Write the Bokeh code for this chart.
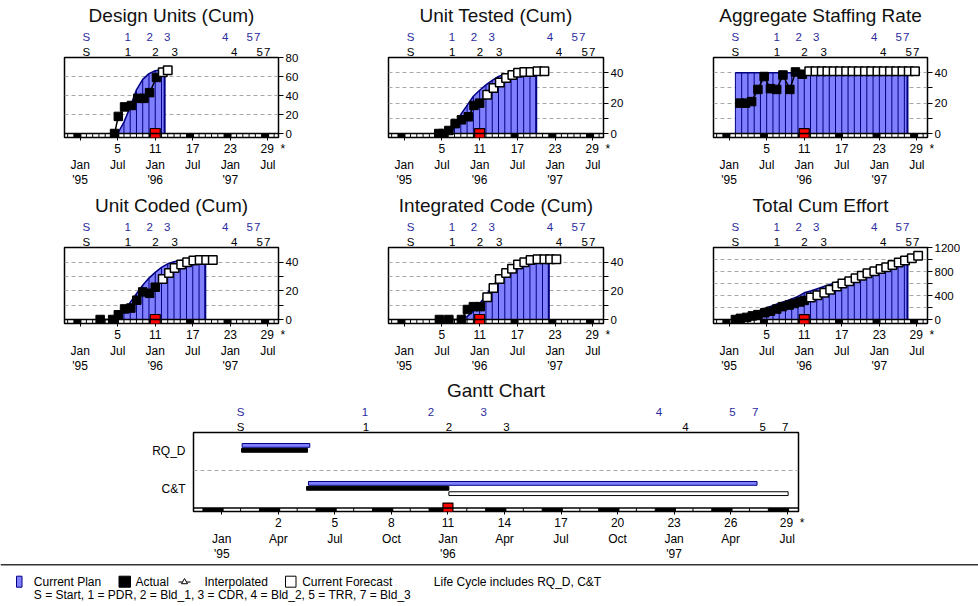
from bokeh.plotting import figure
from bokeh.models import Range1d, LinearAxis, FixedTicker, Span
from bokeh.layouts import column, row
from bokeh.embed import file_html
from bokeh.resources import INLINE
from bokeh.core.properties import value

FONT = "Liberation Sans"
PLAN_FILL = "#8080ff"
PLAN_LINE = "#000080"
MS_BLUE = "#2b2b9e"
NB = "\u00a0"

# ---------------- data ----------------
ms_labels = ["S", "1", "2", "3", "4", "5", "7"]
plan_ms = [0.0, 6.6, 10.1, 12.9, 22.2, 26.1, 27.3]
fcst_ms = [0.0, 6.65, 11.05, 14.1, 23.6, 27.7, 28.9]
current_month = 11

small_num_ticks = [-1, 5, 11, 17, 23, 29]
small_num_labels = ["", "5", "11", "17", "23", "29"]
small_month_ticks = [-1, 5, 11, 17, 23, 29]
small_month_labels = ["Jan", "Jul", "Jan", "Jul", "Jan", "Jul"]
small_marks = [-1, 5, 11, 17, 23, 29]

gantt_num_ticks = [-1, 2, 5, 8, 11, 14, 17, 20, 23, 26, 29]
gantt_num_labels = ["", "2", "5", "8", "11", "14", "17", "20", "23", "26", "29"]
gantt_month_ticks = [-1, 2, 5, 8, 11, 14, 17, 20, 23, 26, 29]
gantt_month_labels = ["Jan", "Apr", "Jul", "Oct", "Jan", "Apr", "Jul", "Oct", "Jan", "Apr", "Jul"]
gantt_marks = [-1, 2, 5, 8, 11, 14, 17, 20, 23, 26, 29]

year_ticks = [-1, 11, 23]
year_labels = ["'95", "'96", "'97"]
end_note = "*"

# Design Units (Cum)
du_plan_m = [5, 6, 7, 8, 9, 10, 11, 12, 12.5]
du_plan_v = [0, 12, 28, 46, 57, 63, 66, 67, 67]
du_act_m = [4.5, 5.1, 6.1, 7.2, 8.2, 9.2, 10.1, 11.2]
du_act_v = [0, 18, 28, 29.5, 37, 37, 43, 59]
du_fc_m = [12.2, 13.0]
du_fc_v = [64.5, 66.5]

# Unit Tested (Cum)
ut_plan_m = [6.5, 7, 8, 9, 10, 11, 12, 13, 14, 15, 16, 17, 18, 19, 20]
ut_plan_v = [0, 5, 12.5, 18.5, 24.5, 28.5, 32, 35, 37.5, 39, 40, 40.3, 40.5, 40.5, 40.5]
ut_act_m = [4.5, 5.2, 6.1, 7.1, 8.1, 9.2, 10.1, 11.0]
ut_act_v = [0, 0, 2, 6.5, 9, 11, 18.5, 20]
ut_fc_m = [12.2, 13.2, 14.2, 15.2, 16.2, 17.1, 18.1, 19.1, 20.2, 21.3]
ut_fc_v = [25.5, 30, 33.5, 36.5, 38.5, 40, 40.5, 40.5, 41, 41]

# Aggregate Staffing Rate
sr_plan_m = [0, 1, 2, 3, 4, 5, 6, 7, 8, 9, 10, 11, 12, 13, 14, 15, 16, 17, 18, 19, 20,
             21, 22, 23, 24, 25, 26, 27, 27.5]
sr_plan_v = [40, 40, 40, 40, 40, 40, 40, 40, 40, 40, 40, 40, 40, 40, 40, 40, 40, 40, 40, 40,
             40, 40, 40, 40, 40, 40, 40, 40, 40]
sr_act_m = [0.7, 1.6, 2.6, 3.6, 4.6, 5.6, 6.6, 7.6, 8.7, 9.6, 10.7]
sr_act_v = [20, 20, 21, 29, 37.5, 29.5, 29, 38.5, 29, 40.5, 39]
sr_fc_m = [11.8, 12.8, 13.8, 14.7, 15.7, 16.7, 17.7, 18.7, 19.7, 20.7, 21.7, 22.7, 23.7,
           24.7, 25.7, 26.7, 27.7, 28.7]
sr_fc_v = [41, 41, 41, 41, 41, 41, 41, 41, 41, 41, 41, 41, 41, 41, 41, 41, 41, 41]

# Unit Coded (Cum)
uc_plan_m = [4.8, 5, 6, 7, 8, 9, 10, 11, 12, 13, 14, 15, 16, 17, 18, 19]
uc_plan_v = [0, 1, 6, 12, 18, 24, 29, 33, 36.5, 39, 40.5, 41.3, 41.7, 42, 42, 42]
uc_act_m = [2.2, 4.2, 5.1, 6.1, 7.1, 8.05, 9.0, 10.1, 11.0]
uc_act_v = [0, 0, 3.3, 7.4, 8, 13.5, 19.3, 18.3, 22.6]
uc_fc_m = [12.2, 13.2, 14.1, 15.15, 16.1, 17.1, 18.1, 19.15, 20.2]
uc_fc_v = [28.3, 32.6, 36, 38.5, 40, 41.3, 41.7, 41.7, 41.7]

# Integrated Code (Cum)
ic_plan_m = [8, 9, 10, 11, 12, 13, 14, 15, 16, 17, 18, 19, 20, 21, 22]
ic_plan_v = [0, 2, 6, 11, 17, 23, 28.5, 33, 36.5, 39, 40.5, 41.3, 41.7, 42, 42]
ic_act_m = [4.6, 6.1, 8.1, 9.05, 10.0, 11.1]
ic_act_v = [0, 0, 0, 7, 9, 9]
ic_fc_m = [12.2, 13.2, 14.2, 15.2, 16.15, 17.1, 18.1, 19.1, 20.2, 21.3, 22.2, 23.2]
ic_fc_v = [15.6, 22, 28.3, 32.6, 35.6, 38.5, 40, 41.7, 42.2, 42.2, 42.2, 42.2]

# Total Cum Effort
te_plan_m = [0, 1, 2, 3, 4, 5, 6, 7, 8, 9, 10, 11, 12, 13, 14, 15, 16, 17, 18, 19, 20,
             21, 22, 23, 24, 25, 26, 27, 27.5]
te_plan_v = [0, 30, 70, 115, 155, 195, 235, 270, 305, 345, 385, 445, 475, 510, 545, 580,
             615, 655, 690, 730, 770, 810, 850, 890, 925, 960, 1000, 1040, 1060]
te_act_m = [0.0, 0.8, 1.8, 2.7, 3.6, 4.7, 5.6, 6.6, 7.5, 8.6, 9.4, 10.3, 11.0]
te_act_v = [0, 20, 36, 61, 82, 113, 138, 174, 215, 241, 267, 292, 318]
te_fc_m = [12.05, 13.1, 14.2, 15.15, 16.2, 17.1, 18.2, 19.2, 20.2, 21.1, 22.2, 23.2, 24.1,
           25.1, 26.1, 27.1, 28.2, 29.2]
te_fc_v = [369, 405, 446, 497, 549, 600, 636, 687, 728, 769, 805, 841, 872, 908, 949, 985,
           1020, 1062]

# Gantt
gantt_rows = ["RQ_D", "C&T"]
gantt_row_pos = [1.5, 0.5]
g_plan_start = [0.08, 3.6]
g_plan_end = [3.67, 27.4]
g_act_start = [0.05, 3.5]
g_act_end = [3.55, 11.05]
g_fc_rows = ["C&T"]
g_fc_start = [11.05]
g_fc_end = [29.05]

# Legend texts
legend_row1 = ["Current Plan", "Actual", "Interpolated", "Current Forecast",
               "Life Cycle includes RQ_D, C&T"]
legend_row2 = "S = Start,  1 = PDR,  2 = Bld_1,  3 = CDR,  4 = Bld_2,  5 = TRR,  7 = Bld_3"


def with_note(labels):
    """Append the end-of-axis note to the last tick label, balanced so it stays centred."""
    out = list(labels)
    out[-1] = NB * 3 + out[-1] + NB * 2 + end_note
    return out


def style_title(p):
    p.title.text_font = FONT
    p.title.text_font_size = "19px"
    p.title.text_font_style = "normal"
    p.title.text_color = "#111111"
    p.title.align = "center"
    p.title.standoff = 4


def plain_axis(ax, size, color="black", standoff=0, tick_out=0):
    ax.axis_line_color = None
    ax.minor_tick_line_color = None
    ax.major_tick_out = tick_out
    ax.major_tick_in = 0
    if tick_out == 0:
        ax.major_tick_line_color = None
    ax.major_label_standoff = standoff
    ax.major_label_text_font = FONT
    ax.major_label_text_font_size = size
    ax.major_label_text_color = color


def milestone_axes(p):
    ax_f = LinearAxis(ticker=FixedTicker(ticks=fcst_ms),
                      major_label_overrides=dict(zip(fcst_ms, ms_labels)))
    ax_p = LinearAxis(ticker=FixedTicker(ticks=plan_ms),
                      major_label_overrides=dict(zip(plan_ms, ms_labels)))
    plain_axis(ax_f, "11.5px", "black")
    plain_axis(ax_p, "11.5px", MS_BLUE)
    p.add_layout(ax_f, "above")
    p.add_layout(ax_p, "above")


def date_axes(p, nt, nl, mt, ml):
    xa = p.xaxis[0]
    xa.ticker = FixedTicker(ticks=nt)
    xa.major_label_overrides = dict(zip(nt, with_note(nl)))
    plain_axis(xa, "12px", standoff=1, tick_out=3)
    ax_m = LinearAxis(ticker=FixedTicker(ticks=mt), major_label_overrides=dict(zip(mt, ml)))
    ax_y = LinearAxis(ticker=FixedTicker(ticks=year_ticks),
                      major_label_overrides=dict(zip(year_ticks, year_labels)))
    plain_axis(ax_m, "12px", standoff=-1)
    plain_axis(ax_y, "12px", standoff=-2)
    p.add_layout(ax_m, "below")
    p.add_layout(ax_y, "below")


def strip(p, x0, x1, ybot, marks, ext):
    p.quad(left=[m - 1 for m in marks], right=[m + ext for m in marks],
           top=0, bottom=ybot, fill_color="black", line_color=None)
    months = list(range(int(x0), int(x1) + 1))
    p.segment(x0=months, y0=ybot, x1=months, y1=0, line_color="black", line_width=1)
    p.add_layout(Span(location=0, dimension="width", line_color="black", line_width=1.5))


def small_chart(title, w, l, r, t, b, h, yr, yticks, ylabels, gticks,
                plan_m, plan_v, act_m, act_v, fc_m, fc_v):
    p = figure(width=w, height=h, x_range=Range1d(-3.5, 30.7), y_range=Range1d(*yr),
               toolbar_location=None, output_backend="svg", y_axis_location="right",
               min_border_left=l, min_border_right=r, min_border_top=t,
               min_border_bottom=b, title=title)
    style_title(p)
    p.outline_line_color = "black"
    p.outline_line_width = 1.5
    p.xgrid.visible = False
    p.ygrid.ticker = FixedTicker(ticks=gticks)
    p.ygrid.grid_line_dash = "4 3"
    p.ygrid.grid_line_color = "#a8a8a8"

    date_axes(p, small_num_ticks, small_num_labels, small_month_ticks, small_month_labels)

    ya = p.yaxis[0]
    ya.ticker = FixedTicker(ticks=yticks)
    ya.major_label_overrides = dict(zip(yticks, ylabels))
    plain_axis(ya, "11.5px", standoff=2, tick_out=5)

    milestone_axes(p)

    # plan
    p.varea(x=plan_m, y1=0, y2=plan_v, fill_color=PLAN_FILL)
    p.segment(x0=plan_m, y0=0, x1=plan_m, y1=plan_v, line_color=PLAN_LINE, line_width=1)
    p.line(plan_m, plan_v, line_color=PLAN_LINE, line_width=1.5)
    p.segment(x0=[plan_m[-1]], y0=[0], x1=[plan_m[-1]], y1=[plan_v[-1]],
              line_color=PLAN_LINE, line_width=2)

    strip(p, -3, 30, yr[0], small_marks, 0.2)

    p.line(act_m + fc_m, act_v + fc_v, line_color="black", line_width=1.5)
    p.scatter(act_m, act_v, marker="square", size=8.5, fill_color="black", line_color="black")
    p.scatter(fc_m, fc_v, marker="square", size=8.5, fill_color="white", line_color="black",
              line_width=1.5)
    p.scatter([current_month], [0], marker="square", size=10, fill_color="red",
              line_color="black", line_width=1.2)
    return p


t10 = [0, 10, 20, 30, 40]
l10 = ["0", "", "20", "", "40"]

f1 = small_chart("Design Units (Cum)", 326, 64, 48, 56, 53, 190, (-4.2, 80),
                 [0, 20, 40, 60, 80], ["0", "20", "40", "60", "80"], [20, 40, 60],
                 du_plan_m, du_plan_v, du_act_m, du_act_v, du_fc_m, du_fc_v)
f2 = small_chart("Unit Tested (Cum)", 326, 62, 49, 56, 53, 190, (-2.6, 50),
                 t10, l10, [10, 20, 30, 40],
                 ut_plan_m, ut_plan_v, ut_act_m, ut_act_v, ut_fc_m, ut_fc_v)
f3 = small_chart("Aggregate Staffing Rate", 326, 61, 51, 56, 53, 190, (-2.6, 50),
                 t10, l10, [10, 20, 30, 40],
                 sr_plan_m, sr_plan_v, sr_act_m, sr_act_v, sr_fc_m, sr_fc_v)
f4 = small_chart("Unit Coded (Cum)", 326, 64, 48, 53, 50, 185, (-2.8, 50.4),
                 t10, l10, [10, 20, 30, 40],
                 uc_plan_m, uc_plan_v, uc_act_m, uc_act_v, uc_fc_m, uc_fc_v)
f5 = small_chart("Integrated Code (Cum)", 326, 62, 49, 53, 50, 185, (-2.8, 50.4),
                 t10, l10, [10, 20, 30, 40],
                 ic_plan_m, ic_plan_v, ic_act_m, ic_act_v, ic_fc_m, ic_fc_v)
f6 = small_chart("Total Cum Effort", 326, 61, 51, 53, 50, 185, (-66, 1200),
                 [0, 200, 400, 600, 800, 1000, 1200], ["0", "", "400", "", "800", "", "1200"],
                 [200, 400, 600, 800, 1000],
                 te_plan_m, te_plan_v, te_act_m, te_act_v, te_fc_m, te_fc_v)

# ---------------- Gantt ----------------
g = figure(width=978, height=188, x_range=Range1d(-2.5, 29.6), y_range=Range1d(-0.09, 1.99),
           toolbar_location=None, output_backend="svg", min_border_left=193,
           min_border_right=180, min_border_top=56, min_border_bottom=51, title="Gantt Chart")
style_title(g)
g.outline_line_color = "black"
g.outline_line_width = 1.5
g.xgrid.visible = False
g.ygrid.ticker = FixedTicker(ticks=[1.0])
g.ygrid.grid_line_dash = "4 3"
g.ygrid.grid_line_color = "#a8a8a8"
date_axes(g, gantt_num_ticks, gantt_num_labels, gantt_month_ticks, gantt_month_labels)
gy = g.yaxis[0]
gy.ticker = FixedTicker(ticks=gantt_row_pos)
gy.major_label_overrides = dict(zip(gantt_row_pos, gantt_rows))
plain_axis(gy, "12px", standoff=8)
milestone_axes(g)

row_y = dict(zip(gantt_rows, gantt_row_pos))
bh = 0.05
py = [row_y[r] + 0.15 for r in gantt_rows]
ay = [row_y[r] + 0.02 for r in gantt_rows]
fy = [row_y[r] - 0.12 for r in g_fc_rows]
g.quad(left=g_plan_start, right=g_plan_end, top=[v + bh for v in py], bottom=[v - bh for v in py],
       fill_color=PLAN_FILL, line_color=PLAN_LINE, line_width=1)
g.quad(left=g_act_start, right=g_act_end, top=[v + bh for v in ay], bottom=[v - bh for v in ay],
       fill_color="black", line_color="black")
g.quad(left=g_fc_start, right=g_fc_end, top=[v + bh for v in fy], bottom=[v - bh for v in fy],
       fill_color="white", line_color="black", line_width=1)
strip(g, -2, 29, -0.09, gantt_marks, 0.1)
g.scatter([current_month], [0], marker="square", size=10, fill_color="red",
          line_color="black", line_width=1.2)

# ---------------- Legend strip ----------------
lg = figure(width=978, height=43, x_range=Range1d(0, 978), y_range=Range1d(43, 0),
            toolbar_location=None, output_backend="svg", min_border=0,
            x_axis_location=None, y_axis_location=None)
lg.outline_line_color = None
lg.xgrid.visible = False
lg.ygrid.visible = False
lg.add_layout(Span(location=1.3, dimension="width", line_color="#333333", line_width=1.5))
lg.quad(left=[16], right=[21.5], top=[12.7], bottom=[23.7], fill_color=PLAN_FILL,
        line_color=PLAN_LINE)
lg.quad(left=[118.5], right=[130], top=[12.7], bottom=[23.7], fill_color="black",
        line_color="black")
lg.quad(left=[285], right=[295.5], top=[12.7], bottom=[23.7], fill_color="white",
        line_color="black")
lg.line([178, 190], [18.5, 18.5], line_color="black", line_width=1)
lg.scatter([184], [18.5], marker="triangle", size=6, fill_color="white", line_color="black")
lg.text(x=[33.3, 135, 204, 301.7, 433.3], y=[18, 18, 18, 18, 18], text=legend_row1,
        text_font=value(FONT), text_font_size="12px", text_baseline="middle",
        text_color="black")
lg.text(x=[33.3], y=[31.3], text=[legend_row2], text_font=value(FONT), text_font_size="12px",
        text_baseline="middle", text_color="black")

layout = column(row(f1, f2, f3), row(f4, f5, f6), row(g), row(lg))
open("out.html", "w").write(file_html(layout, INLINE))
